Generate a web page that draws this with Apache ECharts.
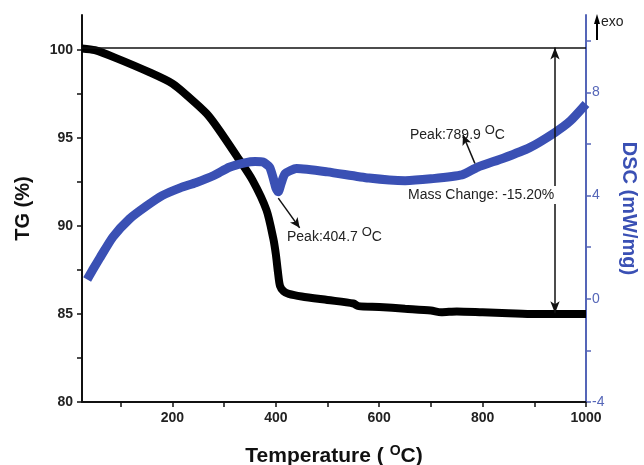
<!DOCTYPE html>
<html><head><meta charset="utf-8">
<script src="https://cdn.jsdelivr.net/npm/echarts@6/dist/echarts.min.js"></script>
<style>html,body{margin:0;padding:0;background:#fff}#c{width:644px;height:465px}</style>
</head><body><div id="c"></div>
<script>
// TG curve (Temperature °C, TG %)
const tgTemp = [25, 50, 91, 155, 200, 233, 266, 287, 324, 355, 382, 395, 400, 404, 408, 415, 425, 450, 500, 550, 560, 600, 650, 700, 720, 750, 800, 850, 900, 950, 1000];
const tgVal  = [100.1, 100.0, 99.55, 98.75, 98.1, 97.3, 96.4, 95.6, 94.0, 92.6, 90.9, 89.3, 88.4, 87.4, 86.6, 86.3, 86.15, 86.0, 85.8, 85.6, 85.45, 85.4, 85.3, 85.2, 85.1, 85.15, 85.1, 85.05, 85.0, 85.0, 85.0];
// DSC curve (Temperature °C, mW/mg)
const dscTemp = [35, 45, 60, 85, 117, 150, 180, 215, 245, 280, 310, 340, 360, 375, 388, 396, 400, 404.7, 410, 418, 440, 500, 580, 650, 700, 760, 790, 840, 890, 940, 970, 1000];
const dscVal  = [0.75, 1.1, 1.6, 2.4, 3.1, 3.6, 4.0, 4.3, 4.5, 4.78, 5.1, 5.27, 5.32, 5.3, 5.1, 4.6, 4.3, 4.15, 4.45, 4.85, 5.05, 4.92, 4.68, 4.58, 4.65, 4.8, 5.1, 5.45, 5.85, 6.45, 6.9, 7.55];
// ticks / labels
const xTicks = [100, 200, 300, 400, 500, 600, 700, 800, 900, 1000];
const xLabels = [200, 400, 600, 800, 1000];
const tgTicks = [80, 82.5, 85, 87.5, 90, 92.5, 95, 97.5, 100];
const tgLabels = [80, 85, 90, 95, 100];
const dscTicks = [-4, -2, 0, 2, 4, 6, 8, 10];
const dscLabels = [-4, 0, 4, 8];
// annotation values
const peak1 = 404.7, peak2 = 789.9, massChange = -15.20, massT = 940;

const FONT = '"Liberation Sans", Arial, sans-serif';
const BLUE = '#3a50b4';
const AXBLUE = '#5566b8';

const chart = echarts.init(document.getElementById('c'), null, {renderer: 'canvas'});
const tgData = tgTemp.map((t, i) => [t, tgVal[i]]);
const dscData = dscTemp.map((t, i) => [t, dscVal[i]]);

chart.setOption({
  animation: false,
  backgroundColor: '#fff',
  textStyle: {fontFamily: FONT},
  grid: {left: 82, right: 58, top: 15, bottom: 63, outerBoundsMode: 'none', containLabel: false},
  xAxis: {
    type: 'value', min: 25, max: 1000,
    name: 'Temperature ( {sup|O}C)', nameLocation: 'middle', nameGap: 42,
    nameTextStyle: {fontFamily: FONT, fontWeight: 'bold', fontSize: 21, color: '#111',
      rich: {sup: {fontFamily: FONT, fontWeight: 'bold', fontSize: 14, color: '#111', verticalAlign: 'top', padding: [0, 0, 11, 0]}}},
    axisLine: {show: true, onZero: false, lineStyle: {color: '#111', width: 2}},
    axisTick: {show: true, customValues: xTicks, length: 5, lineStyle: {color: '#111', width: 1.5}},
    axisLabel: {customValues: xLabels, formatter: v => String(v), fontFamily: FONT, fontWeight: 'bold', fontSize: 14, color: '#222', margin: 9},
    splitLine: {show: false}
  },
  yAxis: [{
    type: 'value', min: 80, max: 102, position: 'left',
    name: 'TG (%)', nameLocation: 'middle', nameGap: 49, nameRotate: 90,
    nameTextStyle: {fontFamily: FONT, fontWeight: 'bold', fontSize: 20, color: '#111'},
    axisLine: {show: true, onZero: false, lineStyle: {color: '#111', width: 2}},
    axisTick: {show: true, customValues: tgTicks, length: 5, lineStyle: {color: '#111', width: 1.5}},
    axisLabel: {customValues: tgLabels, fontFamily: FONT, fontWeight: 'bold', fontSize: 14, color: '#222', margin: 9},
    splitLine: {show: false}
  }, {
    type: 'value', min: -4, max: 11, position: 'right',
    name: 'DSC (mW/mg)', nameLocation: 'middle', nameGap: 33, nameRotate: -90,
    nameTextStyle: {fontFamily: FONT, fontWeight: 'bold', fontSize: 20, color: BLUE},
    axisLine: {show: true, onZero: false, lineStyle: {color: AXBLUE, width: 2}},
    axisTick: {show: true, customValues: dscTicks, length: 5, lineStyle: {color: AXBLUE, width: 1.5}},
    axisLabel: {customValues: dscLabels, fontFamily: FONT, fontSize: 14, color: AXBLUE, margin: 6},
    splitLine: {show: false}
  }],
  series: [{
    type: 'line', name: 'TG', data: tgData, yAxisIndex: 0, showSymbol: false, smooth: 0.25,
    lineStyle: {color: '#000', width: 8},
    z: 2,
    markLine: {
      silent: true, symbol: ['none', 'none'], animation: false,
      label: {show: false},
      lineStyle: {color: '#111', width: 1.5, type: 'solid'},
      data: [
        [{coord: [25, 100.15]}, {coord: [1000, 100.15]}],
        [{coord: [massT, 100.15], symbol: 'arrow', symbolSize: [7, 12]}, {coord: [massT, 85.05], symbol: 'arrow', symbolSize: [7, 12]}]
      ]
    }
  }, {
    type: 'line', name: 'DSC', data: dscData, yAxisIndex: 1, showSymbol: false, smooth: 0.2,
    lineStyle: {color: BLUE, width: 9},
    z: 3,
    markLine: {
      silent: true, animation: false,
      label: {show: false},
      lineStyle: {color: '#111', width: 1.5, type: 'solid'},
      data: [
        [{coord: [peak1, 3.9], symbol: 'none'}, {coord: [446, 2.75], symbol: 'arrow', symbolSize: [7, 10]}],
        [{coord: [785, 5.25], symbol: 'none'}, {coord: [762, 6.35], symbol: 'arrow', symbolSize: [7, 10]}]
      ]
    }
  }],
  graphic: [
    {type: 'text', left: 287, top: 226, style: {
      text: 'Peak:' + peak1.toFixed(1) + ' {sup|O}C', fontFamily: FONT, fontSize: 14, fill: '#222',
      rich: {sup: {fontFamily: FONT, fontSize: 13, fill: '#222', verticalAlign: 'top', padding: [0, 0, 10, 0]}}}},
    {type: 'text', left: 410, top: 124, style: {
      text: 'Peak:' + peak2.toFixed(1) + ' {sup|O}C', fontFamily: FONT, fontSize: 14, fill: '#222',
      rich: {sup: {fontFamily: FONT, fontSize: 13, fill: '#222', verticalAlign: 'top', padding: [0, 0, 10, 0]}}}},
    {type: 'rect', left: 406, top: 186, shape: {width: 178, height: 18}, style: {fill: '#fff'}, z: 90},
    {type: 'text', left: 408, top: 188, z: 100, style: {
      text: 'Mass Change: ' + massChange.toFixed(2) + '%', fontFamily: FONT, fontSize: 14, fill: '#222'}},
    {type: 'line', shape: {x1: 597, y1: 40, x2: 597, y2: 22}, style: {stroke: '#000', lineWidth: 2}},
    {type: 'polygon', shape: {points: [[597, 14], [594, 24], [600, 24]]}, style: {fill: '#000'}},
    {type: 'text', left: 601, top: 15, style: {text: 'exo', fontFamily: FONT, fontSize: 14, fill: '#222'}}
  ]
});
</script>
</body></html>
